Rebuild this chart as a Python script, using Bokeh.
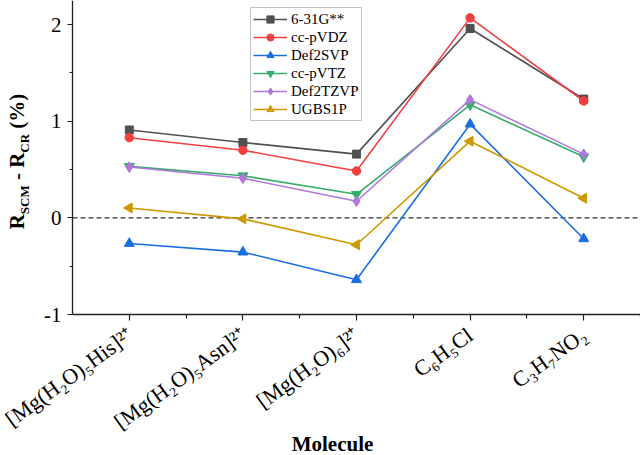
import math
from bokeh.plotting import figure
from bokeh.models import FixedTicker, Range1d, Label, Legend, LegendItem
from bokeh.embed import file_html
from bokeh.resources import INLINE

# Molecules on the x axis (sub/superscripts as Unicode characters)
molecules = ["[Mg(H\u2082O)\u2085His]\u00b2\u207a",
             "[Mg(H\u2082O)\u2085Asn]\u00b2\u207a",
             "[Mg(H\u2082O)\u2086]\u00b2\u207a",
             "C\u2086H\u2085Cl",
             "C\u2083H\u2087NO\u2082"]

# R_SCM - R_CR (%) for each basis set
basis_sets = ["6-31G**", "cc-pVDZ", "Def2SVP", "cc-pVTZ", "Def2TZVP", "UGBS1P"]
r_631gss = [0.91, 0.78, 0.66, 1.96, 1.23]
r_ccpvdz = [0.83, 0.70, 0.485, 2.07, 1.21]
r_def2svp = [-0.265, -0.354, -0.64, 0.97, -0.216]
r_ccpvtz = [0.533, 0.436, 0.244, 1.17, 0.632]
r_def2tzvp = [0.526, 0.41, 0.172, 1.224, 0.66]
r_ugbs1p = [0.103, -0.01, -0.278, 0.794, 0.203]

y_ticks = [-1, 0, 1, 2]
y_tick_labels = ["-1", "0", "1", "2"]
y_minor = [-0.5, 0.5, 1.5]

series = [r_631gss, r_ccpvdz, r_def2svp, r_ccpvtz, r_def2tzvp, r_ugbs1p]
colors = ["#515151", "#F14040", "#1A6FDF", "#37AD6B", "#B177DE", "#CC9900"]
markers = ["square", "circle", "triangle", "inverted_triangle", "diamond", "triangle"]
angles = [0, 0, 0, 0, 0, math.pi / 2]
sizes = [8, 8.5, 10, 10, 10.5, 10]

FONT = "Liberation Serif"

# canvas and axes geometry (pixels)
W, H = 640, 455
AX_LEFT, AX_BOTTOM = 72, 314
X_LO, X_HI = 0.5, len(molecules) + 0.5
Y_LO, Y_HI = -1.0, 2.25

# the frame fills the canvas; axes sit at fixed data locations inside it
px_x = (W - AX_LEFT) / (X_HI - X_LO)
px_y = AX_BOTTOM / (Y_HI - Y_LO)
x_range = Range1d(X_LO - AX_LEFT / px_x, X_HI)
y_range = Range1d(Y_LO - (H - AX_BOTTOM) / px_y, Y_HI)

xs = list(range(1, len(molecules) + 1))

p = figure(width=W, height=H, output_backend="svg", toolbar_location=None,
           x_range=x_range, y_range=y_range,
           min_border_left=0, min_border_right=0, min_border_top=0,
           min_border_bottom=0)
p.outline_line_color = None
p.xgrid.visible = False
p.ygrid.visible = False
p.background_fill_color = "white"
p.border_fill_color = "white"

# zero reference line
p.line([X_LO, X_HI], [0, 0], line_color="black", line_width=1, line_dash="5 3")

items = []
for name, vals, c, m, a, s in zip(basis_sets, series, colors, markers, angles, sizes):
    lr = p.line(xs, vals, line_color=c, line_width=1.6)
    sr = p.scatter(xs, vals, marker=m, size=s, angle=a, fill_color=c,
                   line_color=c, line_width=1)
    items.append(LegendItem(label=name, renderers=[lr, sr]))

legend = Legend(items=items, location=(250, H - 121))
legend.label_text_font = FONT
legend.label_text_font_size = "15px"
legend.label_text_color = "black"
legend.glyph_width = 34
legend.glyph_height = 18
legend.label_height = 18
legend.spacing = 0
legend.padding = 2
legend.margin = 0
legend.label_standoff = 4
legend.border_line_color = "#888888"
legend.border_line_width = 1
legend.background_fill_alpha = 1
p.add_layout(legend)

# axes
for ax in (p.xaxis, p.yaxis):
    ax.axis_line_color = "#222222"
    ax.axis_line_width = 1.3
    ax.major_tick_line_color = "#222222"
    ax.minor_tick_line_color = "#222222"
    ax.major_tick_line_width = 1.2
    ax.minor_tick_line_width = 1.2
    ax.major_tick_in = 0
    ax.minor_tick_in = 0
    ax.major_label_text_font = FONT
    ax.major_label_text_color = "black"

p.xaxis.fixed_location = Y_LO
p.xaxis.bounds = (X_LO, X_HI)
p.xaxis.ticker = FixedTicker(ticks=xs, minor_ticks=[x + 0.5 for x in xs])
p.xaxis.major_label_overrides = {x: m for x, m in zip(xs, molecules)}
p.xaxis.major_label_orientation = math.radians(36)
p.xaxis.major_label_text_font_size = "22px"
p.xaxis.major_tick_out = 6
p.xaxis.minor_tick_out = 4
p.xaxis.major_label_standoff = 12

p.yaxis.fixed_location = X_LO
p.yaxis.bounds = (Y_LO, Y_HI)
p.yaxis.ticker = FixedTicker(ticks=y_ticks, minor_ticks=y_minor)
p.yaxis.major_label_overrides = {t: s for t, s in zip(y_ticks, y_tick_labels)}
p.yaxis.major_label_text_font_size = "21px"
p.yaxis.major_tick_out = 5
p.yaxis.minor_tick_out = 3
p.yaxis.major_label_standoff = 6

# x axis title
p.add_layout(Label(x=332, y=12, x_units="screen", y_units="screen",
                   text="Molecule", text_font=FONT, text_font_size="21px",
                   text_font_style="bold", text_align="center",
                   text_baseline="middle", text_color="black"))

# y axis title built from pieces: R_SCM - R_CR (%)
BOLD_W = {"R": .722, "S": .556, "C": .722, "M": .944, " ": .25, "-": .333,
          "(": .333, "%": 1.0, ")": .333}


def width(s, size):
    return sum(BOLD_W[ch] for ch in s) * size


main_size, sub_size = 21, 13
main_base, sub_base = 24, 28
pieces = [("R", main_size, False), ("SCM", sub_size, True), (" - R", main_size, False),
          ("CR", sub_size, True), (" (%)", main_size, False)]
total = sum(width(t, s) for t, s, _ in pieces)
pos = (H - 161) - total / 2
for t, s, sub in pieces:
    lead = len(t) - len(t.lstrip(" "))
    pos += width(" " * lead, s)
    shown = t.lstrip(" ")
    base = sub_base if sub else main_base
    p.add_layout(Label(x=base - 0.335 * s, y=pos, x_units="screen", y_units="screen",
                       text=shown, angle=math.pi / 2, text_font=FONT,
                       text_font_size=f"{s}px", text_font_style="bold",
                       text_align="left", text_baseline="middle",
                       text_color="black"))
    pos += width(shown, s)

open("out.html", "w").write(file_html(p, INLINE))
